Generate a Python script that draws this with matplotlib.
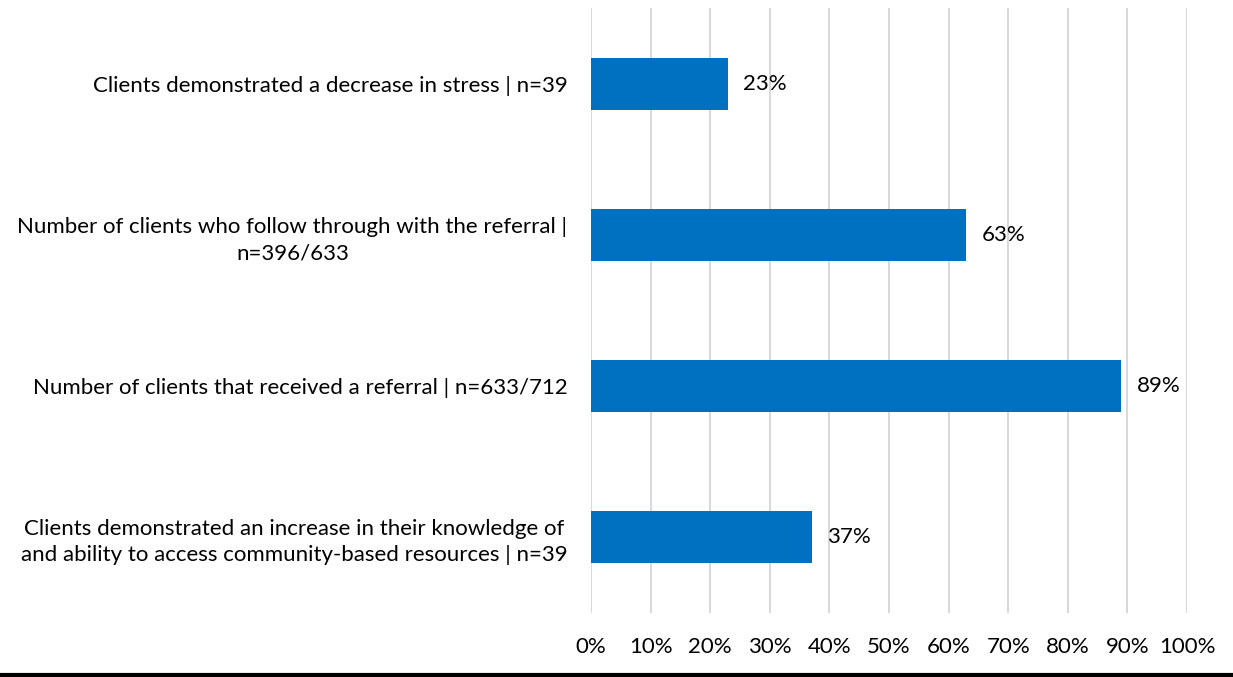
import matplotlib.pyplot as plt
from matplotlib.lines import Line2D

plt.rcParams['font.family'] = ['Lato', 'DejaVu Sans']

categories = [
    'Clients demonstrated a decrease in stress | n=39',
    'Number of clients who follow through with the referral |\nn=396/633',
    'Number of clients that received a referral | n=633/712',
    'Clients demonstrated an increase in their knowledge of\nand ability to access community-based resources | n=39',
]
values = [23, 63, 89, 37]
ticks = list(range(0, 101, 10))
tick_labels = ['%d%%' % t for t in ticks]

fig = plt.figure(figsize=(12.33, 6.77), dpi=100)
ax = fig.add_axes([0.4793, 0.0945, 0.4834, 0.8935])

pos = list(range(len(categories)))[::-1]
bars = ax.barh(pos, values, height=0.345, color='#0070C0', zorder=3)

for p, v in zip(pos, values):
    ax.annotate('%d%%' % v, xy=(v, p), xytext=(11, 0), textcoords='offset points',
                va='center', ha='left', fontsize=16, color='#000000')

ax.set_xlim(0, 100)
ax.set_ylim(-0.5, 3.5)
ax.set_xticks(ticks)
ax.set_xticklabels(tick_labels, fontsize=16)
ax.set_yticks(pos)
ax.set_yticklabels(categories, fontsize=16, linespacing=1.38)
ax.tick_params(axis='both', length=0)
ax.tick_params(axis='x', pad=17)
ax.tick_params(axis='y', pad=17)
for lbl in ax.get_yticklabels():
    lbl.set_horizontalalignment('right')
    lbl.set_multialignment('center')

ax.grid(axis='x', color='#D9D9D9', linewidth=1.5, zorder=0)
for s in ax.spines.values():
    s.set_visible(False)

fig.add_artist(Line2D([0, 1], [0.0035, 0.0035], color='black', linewidth=3,
                      transform=fig.transFigure))

fig.savefig('out.png', dpi=100)
